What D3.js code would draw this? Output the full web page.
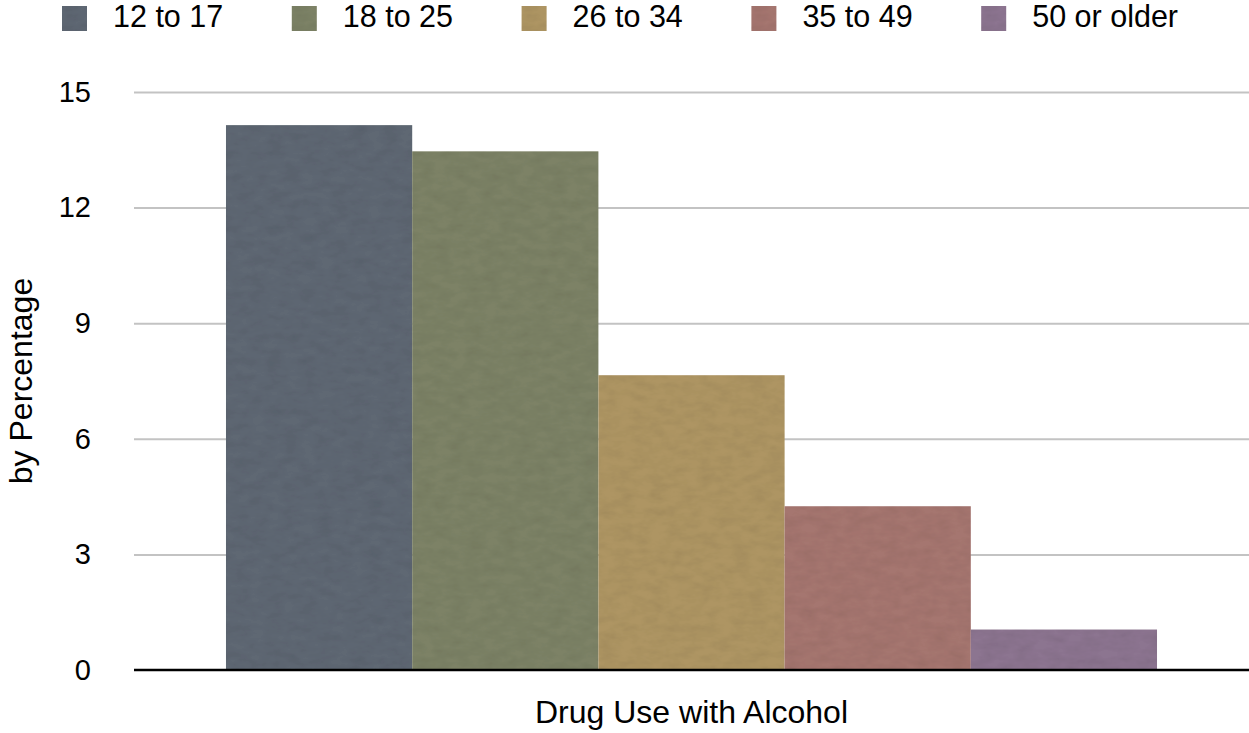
<!DOCTYPE html>
<html>
<head>
<meta charset="utf-8">
<script src="https://cdn.jsdelivr.net/npm/d3@7"></script>
<style>
  body { margin: 0; background: #fff; }
  text { font-family: "Liberation Sans", Arial, Helvetica, sans-serif; fill: #000; }
</style>
</head>
<body>
<script>
// dati
const category = "Drug Use with Alcohol";
const ageGroups = ["12 to 17", "18 to 25", "26 to 34", "35 to 49", "50 or older"];
const percentages = [14.14, 13.46, 7.65, 4.25, 1.05];
const yTicks = [0, 3, 6, 9, 12, 15];
const colors = ["#5e6873", "#7d8266", "#ae9563", "#a57670", "#8c7590"];

const width = 1249;
const height = 733;
const margins = { left: 134, right: 0, top: 92, bottom: 63 };

const svg = d3.select("body")
    .append("svg")
    .attr("width", width)
    .attr("height", height);

// texture leggera tipo carta
const defs = svg.append("defs");
const filter = defs.append("filter").attr("id", "paper")
    .attr("x", 0).attr("y", 0).attr("width", 1).attr("height", 1);
filter.append("feTurbulence")
    .attr("type", "fractalNoise")
    .attr("baseFrequency", "0.06 0.12")
    .attr("numOctaves", 3)
    .attr("seed", 4)
    .attr("result", "noise");
filter.append("feColorMatrix")
    .attr("in", "noise")
    .attr("type", "matrix")
    .attr("values", "0 0 0 0 0  0 0 0 0 0  0 0 0 0 0  0 0 0 0.22 -0.07")
    .attr("result", "shade");
filter.append("feComposite")
    .attr("in", "shade").attr("in2", "SourceGraphic").attr("operator", "in")
    .attr("result", "shadeIn");
const merge = filter.append("feMerge");
merge.append("feMergeNode").attr("in", "SourceGraphic");
merge.append("feMergeNode").attr("in", "shadeIn");

// scale
const yScale = d3.scaleLinear()
    .domain([0, 15])
    .range([height - margins.bottom, margins.top]);

const outer = d3.scaleBand()
    .domain([category])
    .range([margins.left, width - margins.right])
    .paddingInner(0)
    .paddingOuter(0.0988);

const inner = d3.scaleBand()
    .domain(ageGroups)
    .range([0, outer.bandwidth()]);

// griglia
const grid = d3.axisLeft(yScale)
    .tickValues(yTicks.filter(d => d > 0))
    .tickSize(-(width - margins.left - margins.right))
    .tickFormat("");
svg.append("g")
    .attr("transform", "translate(" + margins.left + ",0)")
    .call(grid)
    .call(g => g.select(".domain").remove())
    .call(g => g.selectAll(".tick line").attr("stroke", "#c3c3c3").attr("stroke-width", 2));

// etichette asse y
const yAxis = d3.axisLeft(yScale)
    .tickValues(yTicks)
    .tickSize(0)
    .tickPadding(0);
svg.append("g")
    .attr("transform", "translate(91,0)")
    .call(yAxis)
    .call(g => g.select(".domain").remove())
    .call(g => g.selectAll(".tick text")
        .attr("font-size", 29)
        .attr("font-family", "Liberation Sans, Arial, sans-serif")
        .attr("fill", "#000"));

// barre
svg.append("g")
    .selectAll("rect")
    .data(ageGroups)
    .join("rect")
    .attr("x", d => outer(category) + inner(d))
    .attr("y", (d, i) => yScale(percentages[i]))
    .attr("width", inner.bandwidth())
    .attr("height", (d, i) => yScale(0) - yScale(percentages[i]))
    .attr("fill", (d, i) => colors[i])
    .attr("filter", "url(#paper)");

// asse x
svg.append("line")
    .attr("x1", margins.left)
    .attr("x2", width - margins.right)
    .attr("y1", yScale(0))
    .attr("y2", yScale(0))
    .attr("stroke", "#000")
    .attr("stroke-width", 2.5);

// titoli assi
svg.append("text")
    .text(category)
    .attr("x", outer(category) + outer.bandwidth() / 2)
    .attr("y", 723)
    .attr("text-anchor", "middle")
    .attr("font-size", 32);

svg.append("text")
    .text("by Percentage")
    .attr("transform", "translate(32," + ((yScale(0) + yScale(15)) / 2) + ") rotate(-90)")
    .attr("text-anchor", "middle")
    .attr("font-size", 32);

// legenda
const legend = svg.append("g")
    .selectAll("g")
    .data(ageGroups)
    .join("g")
    .attr("transform", (d, i) => "translate(" + (113 + i * 229.8) + ",0)");

legend.append("rect")
    .attr("x", -51)
    .attr("y", 6)
    .attr("width", 25)
    .attr("height", 25)
    .attr("fill", (d, i) => colors[i])
    .attr("filter", "url(#paper)");

legend.append("text")
    .text(d => d)
    .attr("x", 0)
    .attr("y", 27)
    .attr("font-size", 30.5);
</script>
</body>
</html>
